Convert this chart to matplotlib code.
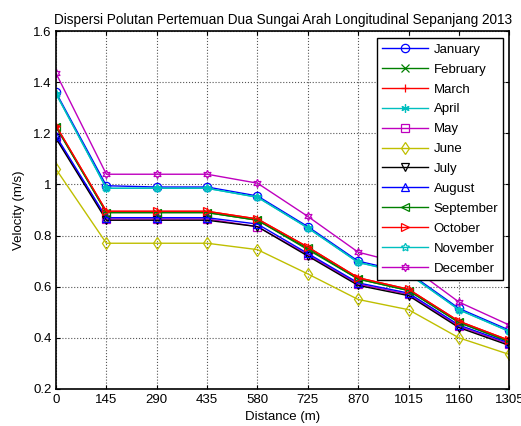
import matplotlib
matplotlib.use("Agg")
import matplotlib.pyplot as plt

distance = [0, 145, 290, 435, 580, 725, 870, 1015, 1160, 1305]

months = ["January", "February", "March", "April", "May", "June",
          "July", "August", "September", "October", "November", "December"]

january = [1.36, 0.995, 0.99, 0.99, 0.955, 0.835, 0.70, 0.655, 0.515, 0.43]
february = [1.225, 0.89, 0.89, 0.89, 0.86, 0.745, 0.63, 0.585, 0.46, 0.385]
march = [1.23, 0.895, 0.895, 0.895, 0.865, 0.755, 0.635, 0.59, 0.465, 0.39]
april = [1.355, 0.985, 0.985, 0.985, 0.95, 0.83, 0.695, 0.65, 0.51, 0.425]
may = [1.185, 0.865, 0.865, 0.865, 0.835, 0.725, 0.61, 0.57, 0.445, 0.375]
june = [1.06, 0.77, 0.77, 0.77, 0.745, 0.65, 0.55, 0.51, 0.40, 0.335]
july = [1.18, 0.86, 0.86, 0.86, 0.835, 0.72, 0.605, 0.565, 0.44, 0.37]
august = [1.19, 0.87, 0.87, 0.87, 0.845, 0.73, 0.615, 0.575, 0.45, 0.38]
september = [1.225, 0.89, 0.89, 0.89, 0.86, 0.75, 0.63, 0.585, 0.46, 0.385]
october = [1.23, 0.895, 0.895, 0.895, 0.865, 0.755, 0.635, 0.59, 0.465, 0.39]
november = [1.355, 0.985, 0.985, 0.985, 0.95, 0.83, 0.695, 0.65, 0.51, 0.425]
december = [1.435, 1.04, 1.04, 1.04, 1.005, 0.875, 0.735, 0.685, 0.54, 0.45]

series = [january, february, march, april, may, june,
          july, august, september, october, november, december]

# MATLAB style colour cycle and markers (asterisk, pentagram, hexagram as star tuples)
colors = ["#0000ff", "#008000", "#ff0000", "#00bfbf", "#bf00bf", "#bfbf00", "#000000",
          "#0000ff", "#008000", "#ff0000", "#00bfbf", "#bf00bf"]
markers = ["o", "x", "+", (6, 2, 0), "s", "d", "v", "^", "<", ">", (5, 1, 0), (6, 1, 0)]

plt.rcParams["font.family"] = ["Liberation Sans", "DejaVu Sans"]

fig = plt.figure(figsize=(5.21, 4.26), dpi=100)
ax = fig.add_axes([0.1075, 0.087, 0.870, 0.840])

for name, values, color, marker in zip(months, series, colors, markers):
    ax.plot(distance, values, color=color, marker=marker, markersize=6,
            markerfacecolor="none", markeredgewidth=0.9, linewidth=1.0, label=name)

ax.set_xlim(0, 1305)
ax.set_ylim(0.2, 1.6)
ax.set_xticks(distance)
ax.set_yticks([0.2, 0.4, 0.6, 0.8, 1.0, 1.2, 1.4, 1.6])
ax.set_yticklabels(["0.2", "0.4", "0.6", "0.8", "1", "1.2", "1.4", "1.6"])
ax.tick_params(direction="in", top=True, right=True, labelsize=9.5, length=3)
ax.tick_params(axis="x", pad=4)
ax.tick_params(axis="y", pad=3)
ax.grid(True, color="#555555", linestyle=":", linewidth=0.8)
for spine in ax.spines.values():
    spine.set_linewidth(1.2)

ax.set_title("Dispersi Polutan Pertemuan Dua Sungai Arah Longitudinal Sepanjang 2013",
             fontsize=9.8, pad=5)
ax.set_xlabel("Distance (m)", fontsize=9.5, labelpad=3)
ax.set_ylabel("Velocity (m/s)", fontsize=9.5, labelpad=6)

legend = ax.legend(loc="upper right", bbox_to_anchor=(0.987, 0.98), fontsize=9.5,
                   handlelength=3.5, labelspacing=0.58, borderpad=0.4,
                   handletextpad=0.4, borderaxespad=0, fancybox=False, framealpha=1)
legend.get_frame().set_edgecolor("black")
legend.get_frame().set_linewidth(1.0)

fig.savefig("out.png", dpi=100)
